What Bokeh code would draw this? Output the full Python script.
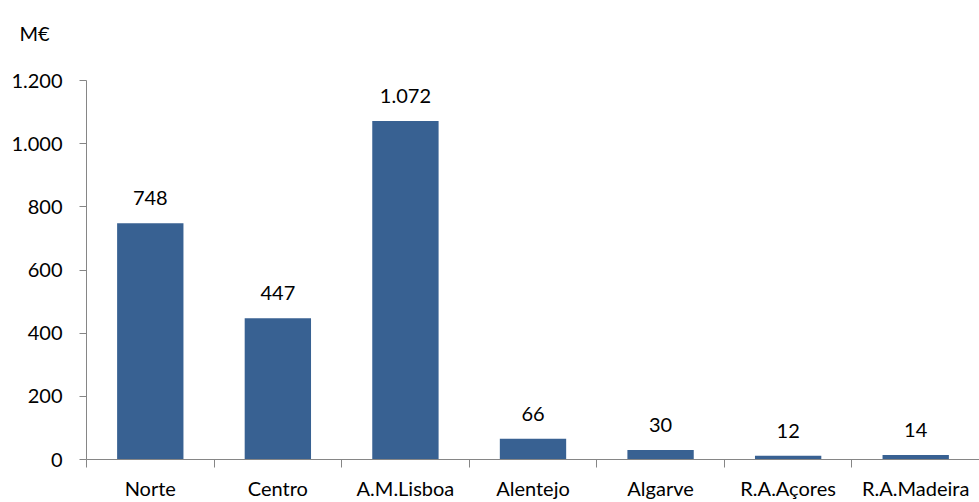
from bokeh.plotting import figure
from bokeh.models import ColumnDataSource, FixedTicker, Range1d, Title
from bokeh.core.properties import value
from bokeh.embed import file_html
from bokeh.resources import INLINE

categories = ["Norte", "Centro", "A.M.Lisboa", "Alentejo", "Algarve", "R.A.Açores", "R.A.Madeira"]
values = [748, 447, 1072, 66, 30, 12, 14]
value_labels = ["748", "447", "1.072", "66", "30", "12", "14"]
y_ticks = [0, 200, 400, 600, 800, 1000, 1200]
y_tick_labels = ["0", "200", "400", "600", "800", "1.000", "1.200"]
unit_label = "M€"

FONT = "Lato"
FS = "20px"
xs = [i + 0.5 for i in range(len(categories))]
src = ColumnDataSource(dict(x=xs, top=values, lab=value_labels))

p = figure(width=979, height=502, output_backend="svg", toolbar_location=None,
           x_range=Range1d(0, len(categories)), y_range=Range1d(0, 1200),
           min_border_left=86, min_border_right=0, min_border_top=80, min_border_bottom=40)
p.outline_line_color = None
p.xgrid.visible = False
p.ygrid.visible = False
p.background_fill_color = "white"

p.vbar(x="x", top="top", width=0.52, source=src, color="#386192", line_color=None)
p.text(x="x", y="top", text="lab", source=src, text_align="center", text_baseline="bottom",
       y_offset=-18, text_font=value(FONT), text_font_size=FS, text_color="black")

xa = p.xaxis[0]
xa.ticker = FixedTicker(ticks=xs, minor_ticks=list(range(len(categories) + 1)))
xa.major_label_overrides = {x: c for x, c in zip(xs, categories)}
xa.major_tick_out = 0
xa.major_tick_in = 0
xa.minor_tick_out = 8
xa.minor_tick_in = 0
xa.minor_tick_line_color = "#868686"
xa.axis_line_color = "#868686"
xa.major_label_text_font = FONT
xa.major_label_text_font_size = FS
xa.major_label_text_color = "black"
xa.major_label_standoff = 8

ya = p.yaxis[0]
ya.ticker = FixedTicker(ticks=y_ticks)
ya.major_label_overrides = {t: l for t, l in zip(y_ticks, y_tick_labels)}
ya.major_tick_out = 7
ya.major_tick_in = 0
ya.minor_tick_out = 0
ya.minor_tick_in = 0
ya.major_tick_line_color = "#868686"
ya.axis_line_color = "#868686"
ya.major_label_text_font = FONT
ya.major_label_text_font_size = FS
ya.major_label_text_color = "black"
ya.major_label_standoff = 17

p.add_layout(Title(text=unit_label + "\n\u00a0", align="left", offset=-67, standoff=20,
                   vertical_align="top",
                   text_font=FONT, text_font_size=FS, text_font_style="normal",
                   text_color="black"), "above")

open("out.html", "w").write(file_html(p, INLINE))
